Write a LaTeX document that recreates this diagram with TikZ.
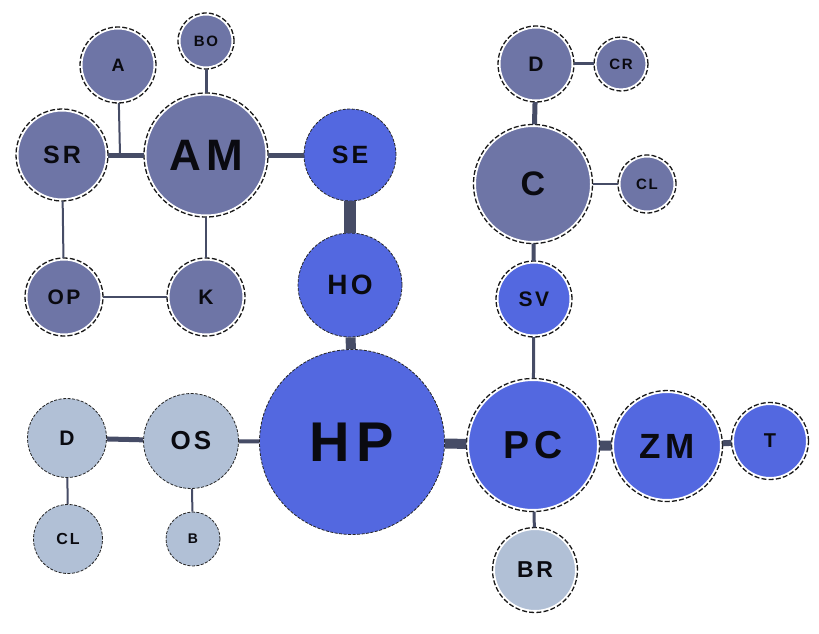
\documentclass[tikz,border=0pt]{standalone}
\usepackage{fontspec}
\setmainfont{Liberation Sans}[LetterSpace=12]
\definecolor{cpur}{RGB}{110,117,166}
\definecolor{cblu}{RGB}{83,104,224}
\definecolor{clit}{RGB}{177,192,214}
\definecolor{cedge}{RGB}{70,76,102}
\definecolor{ctxt}{RGB}{10,10,16}
\tikzset{
  bub/.style={circle, inner sep=0pt, text=ctxt, font=\bfseries},
  thinrim/.style={draw=black!85, dash pattern=on 3pt off 1.5pt, line width=0.8pt},
  ringrim/.style={postaction={draw=white, line width=5pt},
                  postaction={draw=black!90, dash pattern=on 5pt off 2.2pt, line width=1.3pt}},
  pur/.style={bub, fill=cpur, ringrim},
  blu/.style={bub, fill=cblu, thinrim},
  blur/.style={bub, fill=cblu, ringrim},
  lit/.style={bub, fill=clit, thinrim},
  litr/.style={bub, fill=clit, ringrim},
  ed/.style={draw=cedge, line width=#1},
  ed/.default=2pt
}
\newcommand{\fs}[1]{\fontsize{#1}{#1}\selectfont}
\begin{document}
\begin{tikzpicture}[x=1pt,y=-1pt]
\useasboundingbox (0,0) rectangle (819,634);
% nodes
\node[pur, minimum size=76pt, font=\bfseries\fs{18}] (A) at (118,65) {A};
\node[pur, minimum size=56pt, font=\bfseries\fs{15}] (BO) at (206,41) {BO};
\node[pur, minimum size=92pt, font=\bfseries\fs{25}] (SR) at (62,155) {SR};
\node[pur, minimum size=124pt, font=\bfseries\fs{44}] (AM) at (206,155) {AM};
\node[pur, minimum size=78pt, font=\bfseries\fs{21}] (OP) at (64,297) {OP};
\node[pur, minimum size=78pt, font=\bfseries\fs{21}] (K) at (206,297) {K};
\node[blu, minimum size=92pt, font=\bfseries\fs{25}] (SE) at (350,155) {SE};
\node[blu, minimum size=104pt, font=\bfseries\fs{28}] (HO) at (350,285) {HO};
\node[blu, minimum size=185pt, font=\bfseries\fs{56}] (HP) at (352,442) {HP};
\node[pur, minimum size=76pt, font=\bfseries\fs{21}] (D1) at (536,64) {D};
\node[pur, minimum size=54pt, font=\bfseries\fs{15}] (CR) at (621,64) {CR};
\node[pur, minimum size=119pt, font=\bfseries\fs{34}] (C) at (533,184) {C};
\node[pur, minimum size=58pt, font=\bfseries\fs{15}] (CL1) at (647,184) {CL};
\node[blur, minimum size=76pt, font=\bfseries\fs{21}] (SV) at (534,299) {SV};
\node[blur, minimum size=133pt, font=\bfseries\fs{39}] (PC) at (533,445) {PC};
\node[blur, minimum size=111pt, font=\bfseries\fs{35}] (ZM) at (667,446) {ZM};
\node[blur, minimum size=77pt, font=\bfseries\fs{20}] (T) at (770,441) {T};
\node[litr, minimum size=85pt, font=\bfseries\fs{23}] (BR) at (535,570) {BR};
\node[lit, minimum size=79pt, font=\bfseries\fs{21}] (D2) at (67,438) {D};
\node[lit, minimum size=95pt, font=\bfseries\fs{26}] (OS) at (191,441) {OS};
\node[lit, minimum size=69pt, font=\bfseries\fs{16}] (CL2) at (68,539) {CL};
\node[lit, minimum size=54pt, font=\bfseries\fs{14}] (B) at (193,539) {B};
\coordinate (J) at (120,155);
% edges
\draw[ed=5pt] (SR) -- (AM);
\draw[ed=2pt] (A) -- (J);
\draw[ed=3pt] (BO) -- (AM);
\draw[ed=5pt] (AM) -- (SE);
\draw[ed=12pt] (SE) -- (HO);
\draw[ed=10pt] (HO) -- (HP);
\draw[ed=2pt] (SR) -- (OP);
\draw[ed=2pt] (OP) -- (K);
\draw[ed=2pt] (AM) -- (K);
\draw[ed=5pt] (D1) -- (C);
\draw[ed=3pt] (D1) -- (CR);
\draw[ed=2pt] (C) -- (CL1);
\draw[ed=4pt] (C) -- (SV);
\draw[ed=3pt] (SV) -- (PC);
\draw[ed=10pt] (HP) -- (PC);
\draw[ed=10pt] (PC) -- (ZM);
\draw[ed=6pt] (ZM) -- (T);
\draw[ed=3pt] (PC) -- (BR);
\draw[ed=5pt] (D2) -- (OS);
\draw[ed=4pt] (OS) -- (HP);
\draw[ed=2pt] (D2) -- (CL2);
\draw[ed=2pt] (OS) -- (B);
\end{tikzpicture}
\end{document}
